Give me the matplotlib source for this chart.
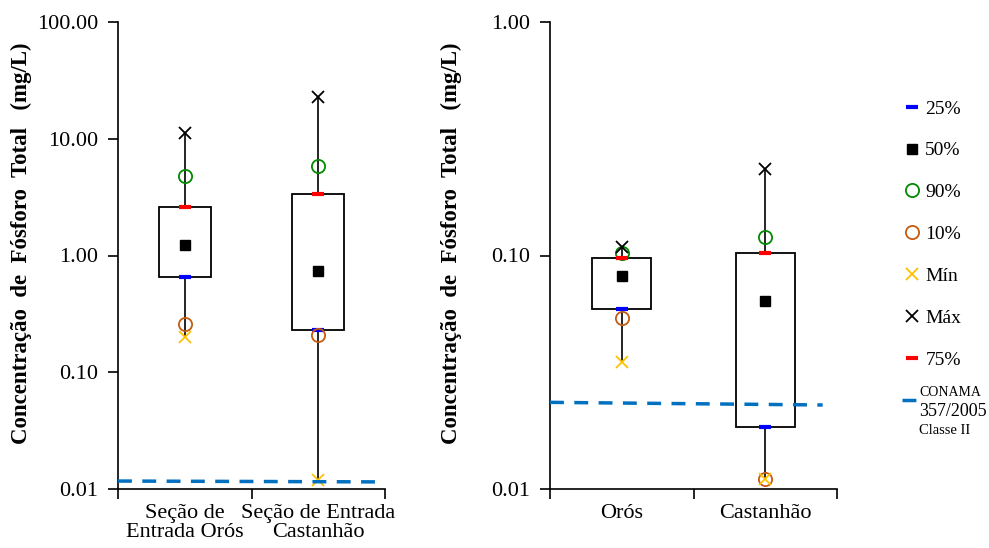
import matplotlib

matplotlib.use("Agg")
import matplotlib.pyplot as plt
from matplotlib.ticker import FixedLocator, FuncFormatter, NullLocator

plt.rcParams["font.family"] = ["Liberation Serif", "DejaVu Serif"]

# values (mg/L)
left_sites = ["Seção de\nEntrada Orós", "Seção de Entrada\nCastanhão"]
left_min = [0.20, 0.012]
left_p10 = [0.26, 0.21]
left_p25 = [0.65, 0.23]
left_p50 = [1.24, 0.73]
left_p75 = [2.58, 3.38]
left_p90 = [4.75, 5.9]
left_max = [11.3, 22.9]
left_conama = [0.0117, 0.0115]

right_sites = ["Orós", "Castanhão"]
right_min = [0.035, 0.011]
right_p10 = [0.054, 0.011]
right_p25 = [0.059, 0.0184]
right_p50 = [0.0815, 0.064]
right_p75 = [0.0974, 0.103]
right_p90 = [0.103, 0.120]
right_max = [0.109, 0.234]
right_conama = [0.0235, 0.0229]

YLABEL = "Concentração  de  Fósforo  Total   (mg/L)"


def draw_panel(ax, sites, vmin, p10, p25, p50, p75, p90, vmax, conama,
               conama_x, box_width, ylim, yticks):
    pos = [i + 0.5 for i in range(len(sites))]
    ax.vlines(pos, vmin, vmax, color="black", linewidth=1.2, zorder=1)
    ax.bar(pos, [hi - lo for lo, hi in zip(p25, p75)], bottom=p25,
           width=box_width, facecolor="white", edgecolor="black",
           linewidth=1.3, zorder=2)
    handles = {}
    handles["25%"], = ax.plot(pos, p25, "_", color="#0000ff", ms=9, mew=3, ls="none", zorder=3)
    handles["50%"], = ax.plot(pos, p50, "s", color="black", ms=7.5, ls="none", zorder=3)
    handles["90%"], = ax.plot(pos, p90, "o", mfc="none", mec="#008a00", ms=9.5, mew=1.3, ls="none", zorder=3)
    handles["10%"], = ax.plot(pos, p10, "o", mfc="none", mec="#c55a11", ms=9.5, mew=1.3, ls="none", zorder=3)
    handles["Mín"], = ax.plot(pos, vmin, "x", color="#ffc000", ms=9, mew=1.3, ls="none", zorder=3)
    handles["Máx"], = ax.plot(pos, vmax, "x", color="black", ms=9, mew=1.3, ls="none", zorder=3)
    handles["75%"], = ax.plot(pos, p75, "_", color="#ff0000", ms=9, mew=3, ls="none", zorder=3)
    handles[""], = ax.plot(conama_x, conama, "--", color="#0070c0",
                           linewidth=2.5, dashes=(4, 3), zorder=4)

    ax.set_yscale("log")
    ax.set_ylim(*ylim)
    ax.set_xlim(0, len(sites))
    ax.yaxis.set_major_locator(FixedLocator(yticks))
    ax.yaxis.set_minor_locator(NullLocator())
    ax.yaxis.set_major_formatter(FuncFormatter(lambda v, _: f"{v:.2f}"))
    ax.set_xticks(range(len(sites) + 1), labels=[])
    ax.set_xticks(pos, labels=sites, minor=True)
    ax.tick_params(axis="x", which="minor", length=0, pad=11, labelsize=16)
    ax.tick_params(axis="x", which="major", length=7, width=1.2, direction="out")
    ax.tick_params(axis="y", which="major", length=7, width=1.2, direction="out",
                   labelsize=16, pad=7)
    for label in ax.get_xticklabels(minor=True):
        label.set_linespacing(0.95)
    for side in ("top", "right"):
        ax.spines[side].set_visible(False)
    for side in ("left", "bottom"):
        ax.spines[side].set_linewidth(1.2)
    ax.set_ylabel(YLABEL, fontweight="bold", fontsize=16.5)
    return handles


fig = plt.figure(figsize=(9.89, 5.48), dpi=100)
ax_left = fig.add_axes([118 / 989, 1 - 489 / 548, 267 / 989, 467 / 548])
ax_right = fig.add_axes([550 / 989, 1 - 489 / 548, 287 / 989, 467 / 548])

draw_panel(ax_left, left_sites, left_min, left_p10, left_p25, left_p50,
           left_p75, left_p90, left_max, left_conama, [0, 2], 0.39,
           (0.01, 100), [0.01, 0.1, 1, 10, 100])
handles = draw_panel(ax_right, right_sites, right_min, right_p10, right_p25,
                     right_p50, right_p75, right_p90, right_max, right_conama,
                     [0, 1.9], 0.41, (0.01, 1), [0.01, 0.1, 1])

ax_left.yaxis.set_label_coords(-0.322, 0.526)
ax_right.yaxis.set_label_coords(-0.307, 0.526)

leg = fig.legend(list(handles.values()), list(handles.keys()),
                 loc="upper left", bbox_to_anchor=(902 / 989, 1 - 100 / 548),
                 frameon=False, fontsize=14, handlelength=1.0,
                 handletextpad=0.2, labelspacing=1.245, borderpad=0,
                 borderaxespad=0)
fig.text(919 / 989, 1 - 393 / 548, "CONAMA", fontsize=10, va="center", ha="left")
fig.text(919 / 989, 1 - 412 / 548, "357/2005", fontsize=13, va="center", ha="left")
fig.text(919 / 989, 1 - 431 / 548, "Classe II", fontsize=10.5, va="center", ha="left")

fig.savefig("out.png", dpi=100)
